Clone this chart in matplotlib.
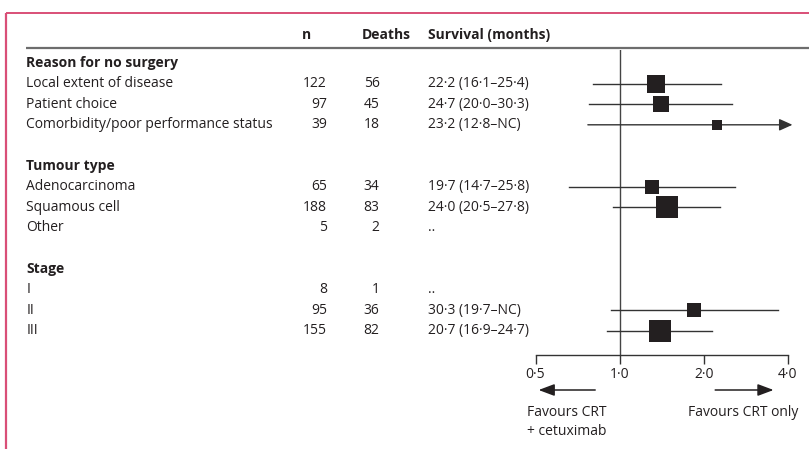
import numpy as np
import matplotlib
matplotlib.use("Agg")
import matplotlib.pyplot as plt
from matplotlib.ticker import FixedLocator, NullLocator

plt.rcParams["font.family"] = ["Open Sans", "DejaVu Sans"]

# ---- data -------------------------------------------------------------
groups = ["Reason for no surgery", "Tumour type", "Stage"]
labels = [
    ["Local extent of disease", "Patient choice", "Comorbidity/poor performance status"],
    ["Adenocarcinoma", "Squamous cell", "Other"],
    ["I", "II", "III"],
]
n_patients = [[122, 97, 39], [65, 188, 5], [8, 95, 155]]
deaths = [[56, 45, 18], [34, 83, 2], [1, 36, 82]]
survival = [
    ["22·2 (16·1–25·4)", "24·7 (20·0–30·3)", "23·2 (12·8–NC)"],
    ["19·7 (14·7–25·8)", "24·0 (20·5–27·8)", ".."],
    ["..", "30·3 (19·7–NC)", "20·7 (16·9–24·7)"],
]
# hazard ratio and 95% CI (None = not estimable / not shown)
hr = [[1.35, 1.41, 2.23], [1.31, 1.48, None], [None, 1.85, 1.39]]
ci_low = [[0.80, 0.78, 0.77], [0.66, 0.95, None], [None, 0.93, 0.90]]
ci_high = [[2.30, 2.53, None], [2.58, 2.29, None], [None, 3.68, 2.15]]
x_ticks = [0.5, 1.0, 2.0, 4.0]
x_tick_labels = ["0·5", "1·0", "2·0", "4·0"]

# ---- layout -----------------------------------------------------------
W, H = 809, 449
ROW0, ROWH = 63.0, 20.6          # pixel y of first row, row pitch
fig = plt.figure(figsize=(W / 100, H / 100), dpi=100)

# full-figure layout axes: x in pixels, y in row slots
lay = fig.add_axes([0, 0, 1, 1])
lay.set_xlim(0, W)
lay.set_ylim((H - ROW0) / ROWH, -ROW0 / ROWH)
lay.axis("off")

def slot(py):
    return (py - ROW0) / ROWH

# forest axes, log x
ax_left, ax_right = 535.5, 787.7
ax_top, ax_bot = 50.0, 354.7
ax = fig.add_axes([ax_left / W, (H - ax_bot) / H,
                   (ax_right - ax_left) / W, (ax_bot - ax_top) / H])
ax.set_xscale("log")
ax.set_xlim(0.5, 4.0)
ax.set_ylim(slot(ax_bot), slot(ax_top))
ax.patch.set_alpha(0)
for s in ["top", "right", "left"]:
    ax.spines[s].set_visible(False)
ax.spines["bottom"].set_color("#333333")
ax.spines["bottom"].set_linewidth(1.0)
ax.xaxis.set_major_locator(FixedLocator(x_ticks))
ax.xaxis.set_minor_locator(NullLocator())
ax.set_xticklabels(x_tick_labels)
ax.tick_params(axis="x", direction="out", length=6.5, width=1.0,
               color="#333333", labelsize=10, pad=2.5, labelcolor="#231f20")
ax.yaxis.set_major_locator(NullLocator())
ax.axvline(1.0, color="#444444", lw=1.0, zorder=1)

TXT = "#231f20"
FS = 10
LINE = "#333333"
BOX = "#231f20"

# frame
frame_c = "#d94f77"
lay.plot([6.5, W], [slot(12.7)] * 2, color=frame_c, lw=1.4, solid_capstyle="butt")
lay.plot([6.5, 6.5], [slot(12.7), slot(H + 2)], color=frame_c, lw=1.6, solid_capstyle="butt")

# header
hy = slot(35)
lay.text(302, hy, "n", fontsize=FS, fontweight="bold", color=TXT, va="center", ha="left")
lay.text(361.5, hy, "Deaths", fontsize=FS, fontweight="bold", color=TXT, va="center", ha="left")
lay.text(428, hy, "Survival (months)", fontsize=FS, fontweight="bold", color=TXT, va="center", ha="left")
lay.plot([26, W], [slot(48)] * 2, color="#6d6d6d", lw=1.6, solid_capstyle="butt")

# rows
k = 0
for g, grp in enumerate(groups):
    lay.text(26.5, k, grp, fontsize=FS, fontweight="bold", color=TXT, va="center", ha="left")
    k += 1
    for i, lab in enumerate(labels[g]):
        lay.text(26.5, k, lab, fontsize=FS, color=TXT, va="center", ha="left")
        lay.text(327, k, str(n_patients[g][i]), fontsize=FS, color=TXT, va="center", ha="right")
        lay.text(379.5, k, str(deaths[g][i]), fontsize=FS, color=TXT, va="center", ha="right")
        lay.text(428, k, survival[g][i], fontsize=FS, color=TXT, va="center", ha="left")
        if hr[g][i] is not None:
            lo = ci_low[g][i]
            hi = ci_high[g][i]
            if hi is None:
                ax.annotate("", xy=(4.16, k), xytext=(lo, k),
                            arrowprops=dict(arrowstyle="-|>,head_length=0.8,head_width=0.36",
                                            mutation_scale=10, color=LINE, lw=1.0,
                                            shrinkA=0, shrinkB=0),
                            annotation_clip=False, zorder=2)
            else:
                ax.plot([lo, hi], [k, k], color=LINE, lw=1.0, zorder=2, clip_on=False)
            ms = 1.69 * np.sqrt(deaths[g][i])
            ax.plot([hr[g][i]], [k], marker="s", ms=ms, color=BOX, mew=0,
                    zorder=3, clip_on=False)
        k += 1
    k += 1

# direction arrows and captions under the axis
ay = slot(390)
ax.annotate("", xy=(0.513, ay), xytext=(0.818, ay),
            arrowprops=dict(arrowstyle="-|>,head_length=0.96,head_width=0.36",
                            mutation_scale=10, color=BOX, lw=1.1, shrinkA=0, shrinkB=0),
            annotation_clip=False)
ax.annotate("", xy=(3.56, ay), xytext=(2.20, ay),
            arrowprops=dict(arrowstyle="-|>,head_length=0.96,head_width=0.36",
                            mutation_scale=10, color=BOX, lw=1.1, shrinkA=0, shrinkB=0),
            annotation_clip=False)
lay.text(527.3, slot(412.7), "Favours CRT", fontsize=FS, color=TXT, va="center", ha="left")
lay.text(527.3, slot(431.7), "+ cetuximab", fontsize=FS, color=TXT, va="center", ha="left")
lay.text(798.5, slot(412.7), "Favours CRT only", fontsize=FS, color=TXT, va="center", ha="right")

fig.savefig("out.png", dpi=100)
